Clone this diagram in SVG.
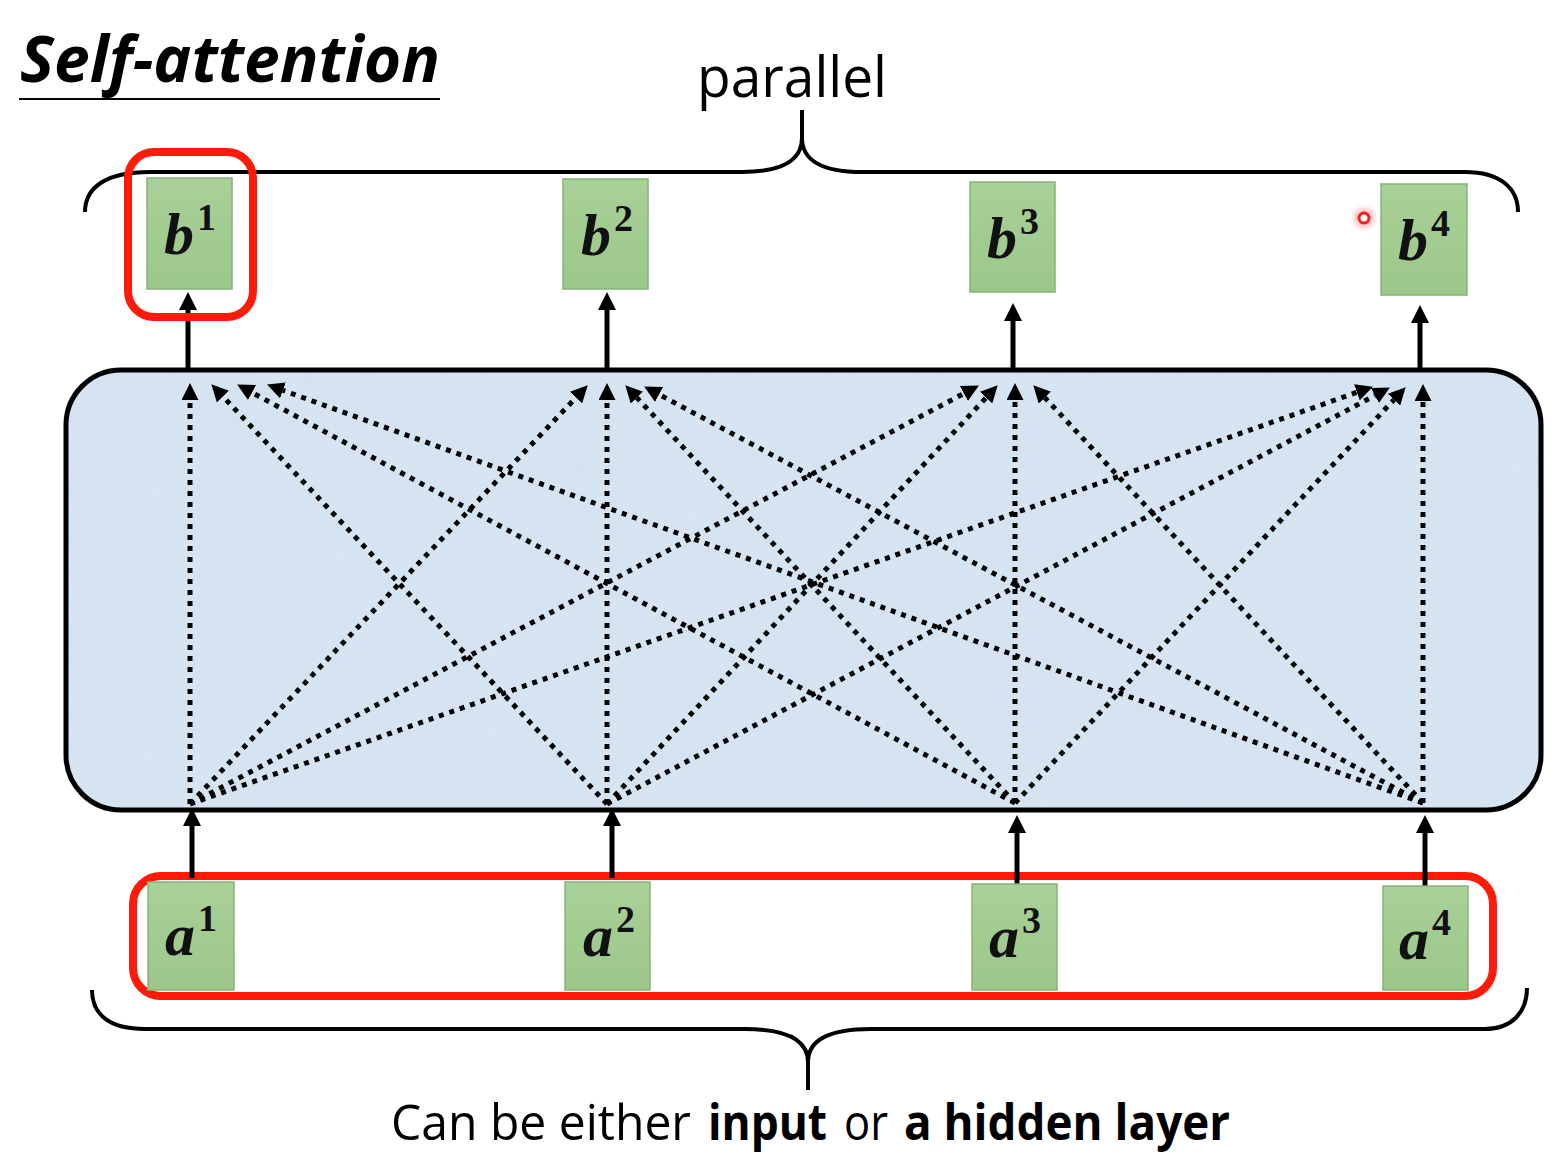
<svg xmlns="http://www.w3.org/2000/svg" width="1551" height="1165" viewBox="0 0 1551 1165">
<style>
.sans{font-family:"Open Sans","Noto Sans","Liberation Sans",sans-serif;fill:#000}
.math{font-family:"Liberation Serif","DejaVu Serif",serif;font-weight:bold;font-style:italic;font-size:60px;fill:#111}
.sup{font-style:normal;font-size:38px}
.box{fill:url(#green);stroke:#86b475;stroke-width:1.5}
.dot{fill:none;stroke:#000;stroke-width:5;stroke-dasharray:5 6;marker-end:url(#hd)}
.solid{fill:none;stroke:#000;stroke-width:5;marker-end:url(#hs)}
.brace{fill:none;stroke:#000;stroke-width:4}
.red{fill:none;stroke:#ff1a0a;stroke-width:8}
</style>
<defs>
<linearGradient id="green" x1="0" y1="0" x2="0" y2="1">
<stop offset="0" stop-color="#a9d098"/>
<stop offset="1" stop-color="#9cc78a"/>
</linearGradient>
<radialGradient id="glow">
<stop offset="0" stop-color="#ff3030" stop-opacity="0.5"/>
<stop offset="1" stop-color="#ff3030" stop-opacity="0"/>
</radialGradient>
<filter id="tex" x="0" y="0" width="1" height="1">
<feTurbulence type="fractalNoise" baseFrequency="0.08" numOctaves="2" seed="3" result="n"/>
<feColorMatrix in="n" type="matrix" values="0 0 0 0 0.78  0 0 0 0 0.85  0 0 0 0 0.93  0 0 0 0.35 0" result="c"/>
<feComposite in="c" in2="SourceGraphic" operator="in" result="t"/>
<feMerge><feMergeNode in="SourceGraphic"/><feMergeNode in="t"/></feMerge>
</filter>
<marker id="hd" markerUnits="userSpaceOnUse" markerWidth="17" markerHeight="17" refX="0" refY="8.5" orient="auto" viewBox="0 0 17 17">
<path d="M0,0 L17,8.5 L0,17 z" fill="#000"/>
</marker>
<marker id="hs" markerUnits="userSpaceOnUse" markerWidth="18" markerHeight="18" refX="0" refY="9" orient="auto" viewBox="0 0 18 18">
<path d="M0,0 L18,9 L0,18 z" fill="#000"/>
</marker>
</defs>
<rect width="1551" height="1165" fill="#fff"/>

<g id="title">
<text class="sans" x="20" y="82" font-size="64" font-weight="bold" font-style="italic" textLength="420" lengthAdjust="spacingAndGlyphs">Self-attention</text>
<line x1="19" y1="99" x2="440" y2="99" stroke="#000" stroke-width="2"/>
</g>

<g id="parallel-label">
<text class="sans" x="697" y="97" font-size="56" textLength="190" lengthAdjust="spacingAndGlyphs">parallel</text>
<path class="brace" d="M85,212 C85,188 105,172 150,172 L742,172 C782,172 802,160 802,138 L802,110 M802,138 C802,160 822,172 862,172 L1465,172 C1500,172 1518,188 1518,212"/>
</g>

<g id="self-attention-block">
<rect x="66" y="370" width="1475" height="440" rx="55" fill="#d3e2f1" filter="url(#tex)"/>
<rect x="66" y="370" width="1475" height="440" rx="55" fill="none" stroke="#000" stroke-width="5"/>
</g>

<g id="connectors">
<line class="dot" x1="190" y1="804" x2="190" y2="400"/>
<line class="dot" x1="607" y1="804" x2="223" y2="396.6"/>
<line class="dot" x1="1015" y1="803" x2="252.1" y2="392.6"/>
<line class="dot" x1="1423" y1="803" x2="283" y2="390.4"/>

<line class="dot" x1="190" y1="804" x2="576" y2="397.6"/>
<line class="dot" x1="607" y1="804" x2="607" y2="400"/>
<line class="dot" x1="1015" y1="803" x2="636.9" y2="397.7"/>
<line class="dot" x1="1423" y1="803" x2="659.1" y2="394.5"/>

<line class="dot" x1="190" y1="804" x2="963.9" y2="393.5"/>
<line class="dot" x1="607" y1="804" x2="986.1" y2="397.7"/>
<line class="dot" x1="1015" y1="803" x2="1015" y2="400"/>
<line class="dot" x1="1423" y1="803" x2="1044.9" y2="397.7"/>

<line class="dot" x1="190" y1="804" x2="1356.9" y2="392.3"/>
<line class="dot" x1="607" y1="804" x2="1374.9" y2="395.5"/>
<line class="dot" x1="1015" y1="803" x2="1394" y2="399.7"/>
<line class="dot" x1="1423" y1="803" x2="1423" y2="401"/>

<line class="solid" x1="188" y1="368" x2="188" y2="310"/>
<line class="solid" x1="607" y1="368" x2="607" y2="310"/>
<line class="solid" x1="1013" y1="370" x2="1013" y2="321"/>
<line class="solid" x1="1420" y1="371" x2="1420" y2="323"/>
</g>

<g id="input-group">
<rect class="red" x="133" y="876" width="1360" height="120" rx="28"/>
</g>

<g id="bottom-arrows">
<line class="solid" x1="192" y1="878" x2="192" y2="826"/>
<line class="solid" x1="612" y1="878" x2="612" y2="826"/>
<line class="solid" x1="1017" y1="886" x2="1017" y2="833"/>
<line class="solid" x1="1425" y1="886" x2="1425" y2="833"/>
</g>

<g id="b1"><rect class="box" x="147" y="178" width="85" height="111"/><text class="math" x="164" y="254">b<tspan class="sup" dx="3" dy="-24">1</tspan></text></g>
<g id="b2"><rect class="box" x="563" y="179" width="85" height="110"/><text class="math" x="581" y="255">b<tspan class="sup" dx="3" dy="-24">2</tspan></text></g>
<g id="b3"><rect class="box" x="970" y="182" width="85" height="110"/><text class="math" x="987" y="258">b<tspan class="sup" dx="3" dy="-24">3</tspan></text></g>
<g id="b4"><rect class="box" x="1381" y="184" width="86" height="111"/><text class="math" x="1398" y="260">b<tspan class="sup" dx="3" dy="-24">4</tspan></text></g>

<g id="b1-highlight"><rect class="red" x="128" y="152" width="125" height="165" rx="26"/></g>

<g id="a1"><rect class="box" x="148" y="882" width="86" height="108"/><text class="math" x="165" y="955">a<tspan class="sup" dx="3" dy="-24">1</tspan></text></g>
<g id="a2"><rect class="box" x="565" y="882" width="85" height="108"/><text class="math" x="583" y="956">a<tspan class="sup" dx="3" dy="-24">2</tspan></text></g>
<g id="a3"><rect class="box" x="972" y="884" width="85" height="106"/><text class="math" x="989" y="957">a<tspan class="sup" dx="3" dy="-24">3</tspan></text></g>
<g id="a4"><rect class="box" x="1383" y="886" width="85" height="104"/><text class="math" x="1399" y="959">a<tspan class="sup" dx="3" dy="-24">4</tspan></text></g>

<g id="input-label">
<path class="brace" d="M92,990 C92,1015 110,1029 145,1029 L745,1029 C786,1029 808,1040 808,1062 L808,1090 M808,1062 C808,1040 830,1029 871,1029 L1485,1029 C1512,1029 1527,1012 1527,988"/>
<text class="sans" x="391" y="1140" font-size="50" textLength="300" lengthAdjust="spacingAndGlyphs">Can be either</text>
<text class="sans" x="708" y="1140" font-size="50" font-weight="bold" textLength="119" lengthAdjust="spacingAndGlyphs">input</text>
<text class="sans" x="844" y="1140" font-size="50" textLength="44" lengthAdjust="spacingAndGlyphs">or</text>
<text class="sans" x="904" y="1140" font-size="50" font-weight="bold" textLength="326" lengthAdjust="spacingAndGlyphs">a hidden layer</text>
</g>

<g id="pointer">
<circle cx="1364" cy="218" r="14" fill="url(#glow)"/>
<circle cx="1364" cy="218" r="5" fill="#fff" stroke="#ff1a1a" stroke-width="3"/>
</g>
</svg>
